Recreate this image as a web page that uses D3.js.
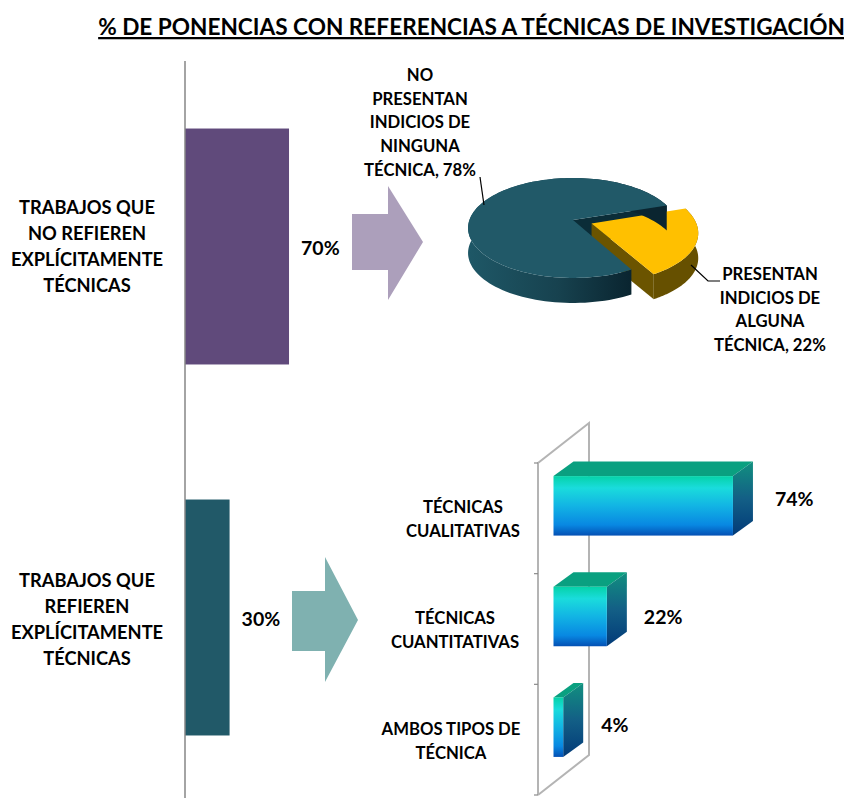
<!DOCTYPE html>
<html>
<head>
<meta charset="utf-8">
<script src="https://cdn.jsdelivr.net/npm/d3@7"></script>
<style>
  html, body { margin: 0; background: #fff; }
  text { font-family: Lato, sans-serif; font-weight: 700; fill: #000; }
</style>
</head>
<body>
<div id="container"></div>
<script>
const titleText = "% DE PONENCIAS CON REFERENCIAS A TÉCNICAS DE INVESTIGACIÓN";

const mainCats = [
  ["TRABAJOS QUE", "NO REFIEREN", "EXPLÍCITAMENTE", "TÉCNICAS"],
  ["TRABAJOS QUE", "REFIEREN", "EXPLÍCITAMENTE", "TÉCNICAS"]
];
const mainVals = [70, 30];
const mainCols = ["#604a7b", "#215968"];

const pieVals = [78, 22];
const pieCols = ["#215968", "#ffc000"];
const pieLabels = [
  ["NO", "PRESENTAN", "INDICIOS DE", "NINGUNA", "TÉCNICA, 78%"],
  ["PRESENTAN", "INDICIOS DE", "ALGUNA", "TÉCNICA, 22%"]
];

const techCats = [
  ["TÉCNICAS", "CUALITATIVAS"],
  ["TÉCNICAS", "CUANTITATIVAS"],
  ["AMBOS TIPOS DE", "TÉCNICA"]
];
const techVals = [74, 22, 4];

const svg = d3.select("#container").append("svg")
  .attr("width", 844).attr("height", 798);
const defs = svg.append("defs");

// title
svg.append("text")
  .attr("x", 471.5).attr("y", 35)
  .attr("text-anchor", "middle")
  .style("font-size", "22.6px")
  .style("text-decoration", "underline")
  .text(titleText);

function multiLine(g, lines, cx, cy, step, size) {
  const t = g.append("text").attr("text-anchor", "middle").style("font-size", size + "px");
  lines.forEach((l, i) => {
    t.append("tspan")
      .attr("x", cx)
      .attr("y", cy + i * step)
      .attr("dy", "0.35em")
      .text(l);
  });
}

// left stacked split
const xMain = d3.scaleLinear().domain([0, 100]).range([185, 333.6]);
const yMain = d3.scaleBand().domain(d3.range(mainVals.length))
  .range([61, 803]).paddingInner(0.364).paddingOuter(0.182);

svg.selectAll(".mainbar").data(mainVals).enter().append("rect")
  .attr("class", "mainbar")
  .attr("x", xMain(0))
  .attr("y", (d, i) => yMain(i))
  .attr("width", d => xMain(d) - xMain(0))
  .attr("height", yMain.bandwidth())
  .attr("fill", (d, i) => mainCols[i]);

svg.append("line")
  .attr("x1", xMain(0)).attr("x2", xMain(0))
  .attr("y1", 61).attr("y2", 798)
  .attr("stroke", "#868686").attr("stroke-width", 1.5);

mainVals.forEach((v, i) => {
  const cy = yMain(i) + yMain.bandwidth() / 2;
  multiLine(svg, mainCats[i], 87, cy - 39 + (i ? 2 : 0), 26, 18.3);
  svg.append("text")
    .attr("x", xMain(v) + 12).attr("y", cy + 2)
    .attr("dy", "0.35em")
    .style("font-size", "19.5px")
    .text(v + "%");
});

// arrows
const arrow = d3.line();
const arrows = [
  { pts: [[352, 214], [388, 214], [388, 186], [423, 242], [388, 300], [388, 270], [352, 270]], col: "#ac9fbb" },
  { pts: [[292, 591], [325, 591], [325, 557], [358, 620], [325, 682], [325, 651], [292, 651]], col: "#7fb1b0" }
];
arrows.forEach(a => {
  svg.append("path").attr("d", arrow(a.pts) + "Z").attr("fill", a.col);
});

// 3d pie: unit disc seen in perspective
const pieCx = 573, pieCy = 220, pieRx = 103.6, pieRy = 48.7, pieK = 0.16, pieDepth = 25;
function project(u, v, drop) {
  const w = 1 - pieK * v;
  return [pieCx + pieRx * u / w, pieCy + pieRy * v / w + (drop || 0)];
}
const pieArcs = d3.pie().sort(null)
  .startAngle(151 * Math.PI / 180)
  .endAngle((151 + 360) * Math.PI / 180)(pieVals);

function slicePts(a, off) {
  const mid = (a.startAngle + a.endAngle) / 2;
  const ox = off * Math.sin(mid), oy = -off * Math.cos(mid);
  const arc = d3.range(0, 121).map(k => {
    const t = a.startAngle + (a.endAngle - a.startAngle) * k / 120;
    return [ox + Math.sin(t), oy - Math.cos(t)];
  });
  return { apex: [ox, oy], arc: arc };
}
const pieLine = d3.line();

function hGrad(id, x1, x2, stops) {
  const g = defs.append("linearGradient").attr("id", id)
    .attr("gradientUnits", "userSpaceOnUse")
    .attr("x1", x1).attr("y1", 0).attr("x2", x2).attr("y2", 0);
  stops.forEach(s => g.append("stop").attr("offset", s[0]).attr("stop-color", s[1]));
}
hGrad("mainWall", 470, 630, [[0, "#1e5766"], [0.55, "#17424f"], [1, "#0a2530"]]);

function drawWall(g, s, fill) {
  const top = s.arc.map(p => project(p[0], p[1]));
  const low = s.arc.map(p => project(p[0], p[1], pieDepth)).reverse();
  g.append("path").attr("d", pieLine(top.concat(low)) + "Z").attr("fill", fill);
}
function drawTop(g, s, fill) {
  g.append("path")
    .attr("d", pieLine([project(s.apex[0], s.apex[1])].concat(s.arc.map(p => project(p[0], p[1])))) + "Z")
    .attr("fill", fill);
}
function drawCut(g, s, edge, fill) {
  g.append("path")
    .attr("d", pieLine([
      project(s.apex[0], s.apex[1]),
      project(edge[0], edge[1]),
      project(edge[0], edge[1], pieDepth),
      project(s.apex[0], s.apex[1], pieDepth)
    ]) + "Z")
    .attr("fill", fill);
}

const pieG = svg.append("g");
const mainSlice = slicePts(pieArcs[0], 0);
const yellowSlice = slicePts(pieArcs[1], 0.19);

// inner cut face of the big slice, seen through the gap
drawCut(pieG, mainSlice, mainSlice.arc[mainSlice.arc.length - 1], "#0b2d38");

// yellow slice
drawCut(pieG, yellowSlice, yellowSlice.arc[yellowSlice.arc.length - 1], "#6b5400");
drawWall(pieG, yellowSlice, "#665000");
drawTop(pieG, yellowSlice, pieCols[1]);

// big slice on top
drawWall(pieG, mainSlice, "url(#mainWall)");
drawTop(pieG, mainSlice, pieCols[0]);

// leaders and labels of the pie
const leader = d3.line();
[[[480, 177], [484, 205]], [[691, 265], [708, 281], [720, 281]]].forEach(l => {
  svg.append("path").attr("d", leader(l)).attr("fill", "none").attr("stroke", "#000").attr("stroke-width", 1.2);
});
multiLine(svg, pieLabels[0], 420, 75, 23.8, 16.7);
multiLine(svg, pieLabels[1], 770, 274, 23.7, 16.7);

// 3d bars
const xTech = d3.scaleLinear().domain([0, 100]).range([553.5, 796]);
const yTech = d3.scaleBand().domain(d3.range(techVals.length)).range([463, 795]);
const barH = 59.5, barDx = 20, barDy = -14.5;
const wallDx = 51, wallDy = -40;
const valDx = [22, 17, 18], valDy = [-7, 1, -2];

function vGrad(id, stops) {
  const g = defs.append("linearGradient").attr("id", id)
    .attr("x1", 0).attr("y1", 0).attr("x2", 0).attr("y2", 1);
  stops.forEach(s => g.append("stop").attr("offset", s[0]).attr("stop-color", s[1]));
}
vGrad("frontGrad", [[0, "#05d2a8"], [0.2, "#1adcdc"], [0.5, "#12b4e4"], [0.82, "#0888e2"], [1, "#0450b4"]]);
vGrad("sideGrad", [[0, "#11907f"], [0.5, "#135f86"], [1, "#023a78"]]);

// back wall frame
const wallLine = d3.line();
const wallBack = svg.append("g").attr("fill", "none").attr("stroke", "#b4b4b4").attr("stroke-width", 2);
wallBack.append("path").attr("d", wallLine([
  [538, 795], [538, 463], [538 + wallDx, 463 + wallDy], [538 + wallDx, 795 + wallDy], [538, 795]
]));
d3.range(techVals.length + 1).forEach(i => {
  const y = 463 + i * yTech.step();
  svg.append("line").attr("x1", 534).attr("x2", 538).attr("y1", y).attr("y2", y)
    .attr("stroke", "#8a8a8a").attr("stroke-width", 1.2);
});

const barLine = d3.line();
techVals.forEach((v, i) => {
  const x0 = xTech(0), x1 = xTech(v);
  const y0 = yTech(i) + yTech.bandwidth() / 2 - 12.5 - barH / 2, y1 = y0 + barH;
  const g = svg.append("g");
  g.append("path")
    .attr("d", barLine([[x0, y0], [x1, y0], [x1 + barDx, y0 + barDy], [x0 + barDx, y0 + barDy]]) + "Z")
    .attr("fill", "#0aa080");
  g.append("path")
    .attr("d", barLine([[x1, y0], [x1 + barDx, y0 + barDy], [x1 + barDx, y1 + barDy], [x1, y1]]) + "Z")
    .attr("fill", "url(#sideGrad)");
  g.append("rect")
    .attr("x", x0).attr("y", y0)
    .attr("width", x1 - x0).attr("height", barH)
    .attr("fill", "url(#frontGrad)");
  svg.append("text")
    .attr("x", x1 + barDx + valDx[i]).attr("y", y0 + barH / 2 + valDy[i])
    .attr("dy", "0.35em")
    .style("font-size", "19.5px")
    .text(v + "%");
});

const techLabelX = [463, 455, 451];
techCats.forEach((c, i) => {
  multiLine(svg, c, techLabelX[i], yTech(i) + yTech.bandwidth() / 2 - 11, 24, 16.7);
});
</script>
</body>
</html>
